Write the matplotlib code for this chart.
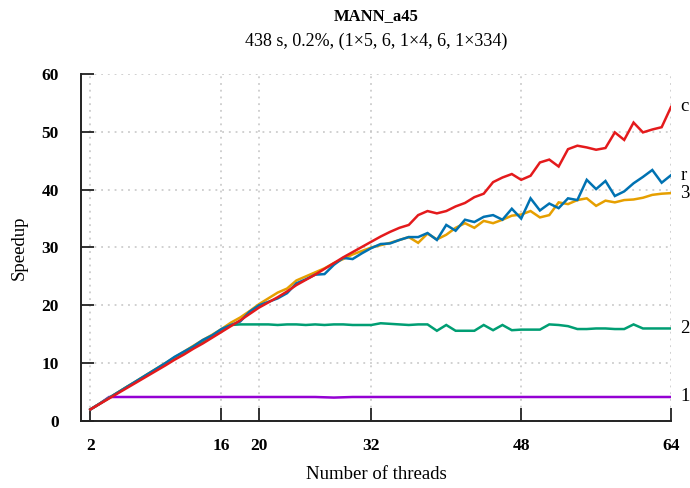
import matplotlib
matplotlib.use("Agg")
import matplotlib.pyplot as plt
import numpy as np

# thread counts on the x axis
threads = np.arange(2, 65)

# speedup per series
speedup_c = [2.0, 2.95, 3.9, 4.85, 5.8, 6.75, 7.7, 8.65, 9.6, 10.6, 11.5, 12.5, 13.4, 14.4, 15.4,
             16.4, 17.4, 18.5, 19.6, 20.5, 21.4, 22.4, 23.5, 24.4, 25.3, 26.3, 27.3, 28.3, 29.2, 30.1,
             31.0, 31.9, 32.7, 33.4, 33.9, 35.6, 36.3, 35.9, 36.3, 37.1, 37.7, 38.7, 39.3, 41.3, 42.1,
             42.7, 41.7, 42.4, 44.7, 45.2, 44.0, 47.0, 47.6, 47.3, 46.9, 47.2, 49.9, 48.6, 51.6, 49.9,
             50.4, 50.8, 54.3]
speedup_r = [2.0, 3.0, 4.0, 5.0, 6.0, 7.0, 8.0, 9.0, 10.0, 11.1, 12.0, 12.9, 14.0, 14.8, 15.9,
             16.6, 17.2, 18.9, 20.0, 20.6, 21.2, 22.1, 23.8, 24.5, 25.3, 25.4, 27.0, 28.2, 28.0, 29.0,
             29.9, 30.6, 30.7, 31.3, 31.8, 31.8, 32.5, 31.3, 33.9, 32.9, 34.8, 34.4, 35.3, 35.6, 34.8,
             36.7, 35.0, 38.5, 36.4, 37.6, 36.8, 38.5, 38.2, 41.7, 40.1, 41.5, 38.9, 39.7, 41.1, 42.2,
             43.4, 41.2, 42.5]
speedup_3 = [2.0, 3.0, 4.0, 5.0, 6.0, 7.0, 8.0, 9.0, 10.0, 11.0, 12.0, 13.0, 14.0, 14.9, 15.9,
             17.0, 17.9, 19.0, 20.2, 21.2, 22.2, 22.9, 24.3, 25.0, 25.7, 26.4, 27.3, 28.0, 28.8, 29.4,
             30.0, 30.4, 30.8, 31.3, 31.8, 30.8, 32.4, 31.4, 32.2, 33.4, 34.2, 33.4, 34.6, 34.2, 34.8,
             35.5, 35.7, 36.3, 35.2, 35.6, 37.8, 37.5, 38.2, 38.5, 37.2, 38.1, 37.8, 38.2, 38.3, 38.6,
             39.1, 39.3, 39.4]
speedup_2 = [2.0, 3.0, 4.0, 5.0, 6.0, 6.9, 7.9, 8.9, 9.8, 10.8, 11.7, 12.7, 13.6, 14.6, 15.5,
             16.6, 16.7, 16.7, 16.7, 16.7, 16.6, 16.7, 16.7, 16.6, 16.7, 16.6, 16.7, 16.7, 16.6, 16.6,
             16.6, 16.9, 16.8, 16.7, 16.6, 16.7, 16.7, 15.6, 16.6, 15.6, 15.6, 15.6, 16.6, 15.7, 16.6,
             15.7, 15.8, 15.8, 15.8, 16.7, 16.6, 16.4, 15.9, 15.9, 16.0, 16.0, 15.9, 15.9, 16.7, 16.0,
             16.0, 16.0, 16.0]
speedup_1 = [2.0, 3.0, 4.15, 4.15, 4.15, 4.15, 4.15, 4.15, 4.15, 4.15, 4.15, 4.15, 4.15, 4.15, 4.15,
             4.15, 4.15, 4.15, 4.15, 4.15, 4.15, 4.15, 4.15, 4.15, 4.15, 4.1, 4.05, 4.1, 4.15, 4.15,
             4.15, 4.15, 4.15, 4.15, 4.15, 4.15, 4.15, 4.15, 4.15, 4.15, 4.15, 4.15, 4.15, 4.15, 4.15,
             4.15, 4.15, 4.15, 4.15, 4.15, 4.15, 4.15, 4.15, 4.15, 4.15, 4.15, 4.15, 4.15, 4.15, 4.15,
             4.15, 4.15, 4.15]

series = [("1", speedup_1, "#9400D3"),
          ("2", speedup_2, "#009E73"),
          ("3", speedup_3, "#E69F00"),
          ("r", speedup_r, "#0072B2"),
          ("c", speedup_c, "#E41A1C")]

xticks = [2, 16, 20, 32, 48, 64]
yticks = [0, 10, 20, 30, 40, 50, 60]

plt.rcParams["font.family"] = ["Liberation Serif", "DejaVu Serif"]

fig = plt.figure(figsize=(6.9, 4.88), dpi=100)
ax = fig.add_axes([0.1174, 0.1373, 0.8551, 0.7111])

for name, vals, col in series:
    ax.plot(threads, vals, color=col, lw=1.8, solid_joinstyle="miter")
    ax.text(threads[-1] + 1.0, vals[-1], name, va="center", ha="left", fontsize=13.5)

ax.set_xlim(1, 64)
ax.set_ylim(0, 60)
ax.set_xticks(xticks)
ax.set_yticks(yticks)
ax.grid(True, ls=(0, (1.2, 3.2)), color="#c4c4c4", lw=1.1)
ax.set_axisbelow(True)

for s in ["top", "right"]:
    ax.spines[s].set_visible(False)
for s in ["left", "bottom"]:
    ax.spines[s].set_linewidth(1.4)
    ax.spines[s].set_color("#222222")

ax.tick_params(direction="in", length=9.5, width=1.3, color="#222222", labelsize=12.5)
ax.tick_params(axis="x", pad=12)
ax.tick_params(axis="y", pad=16)
for lab in ax.get_xticklabels() + ax.get_yticklabels():
    lab.set_fontweight("bold")

ax.set_xlabel("Number of threads", fontsize=13.5, labelpad=9)
ax.set_ylabel("Speedup", fontsize=13.5, labelpad=10)

# titles sit over the middle of the plot area
xc = 0.1174 + 0.8551 / 2
fig.text(xc, 0.968, "MANN_a45", ha="center", va="center", fontsize=12, fontweight="bold")
fig.text(xc, 0.915, "438 s, 0.2%, (1×5, 6, 1×4, 6, 1×334)", ha="center", va="center", fontsize=13)

fig.savefig("out.png", dpi=100)
